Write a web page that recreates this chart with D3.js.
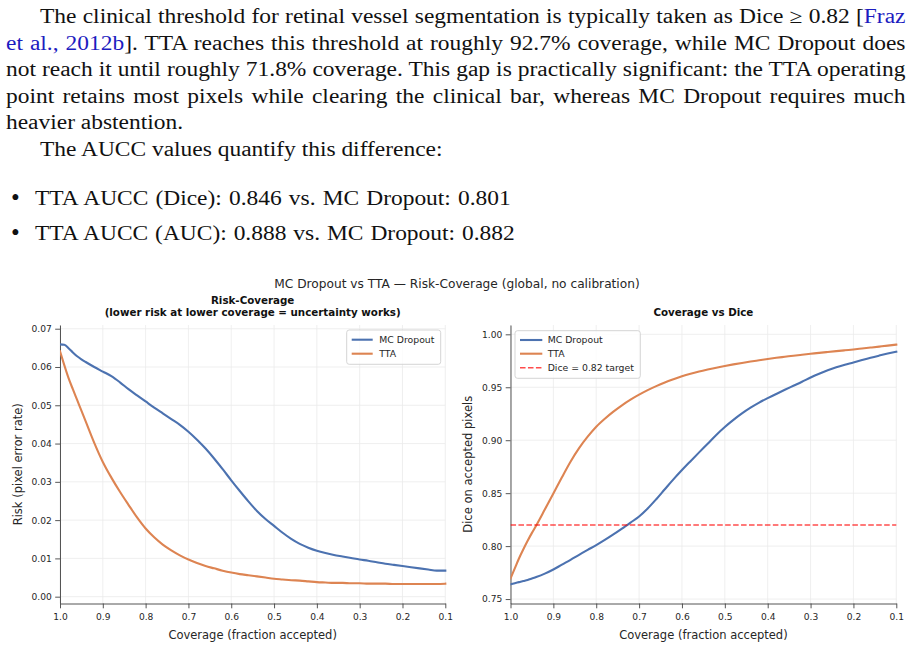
<!DOCTYPE html>
<html><head><meta charset="utf-8">
<script src="https://cdn.jsdelivr.net/npm/d3@7"></script>
<style>body{margin:0;background:#fff;} svg{display:block;}</style>
</head><body>
<svg id="fig" width="914" height="647" xmlns="http://www.w3.org/2000/svg"></svg>
<script>
// ---------------- data ----------------
const coverage = [1.00,0.99,0.98,0.97,0.96,0.95,0.94,
  0.92,0.90,0.88,0.86,0.84,0.82,0.80,0.78,0.76,0.74,0.72,0.70,0.68,0.66,0.64,0.62,0.60,
  0.58,0.56,0.54,0.52,0.50,0.48,0.46,0.44,0.42,0.40,0.38,0.36,0.34,0.32,0.30,
  0.28,0.26,0.24,0.22,0.20,0.18,0.16,0.14,0.12,0.10];
const riskMC = [0.0659,0.0658,0.0649,0.0638,0.0628,0.0620,0.0613,
  0.0600,0.0588,0.0576,0.0560,0.0542,0.0526,0.0510,0.0494,0.0479,0.0464,0.0449,0.0431,0.0410,0.0387,0.0361,0.0333,0.0304,
  0.0276,0.0249,0.0224,0.0203,0.0185,0.0167,0.0151,0.0138,0.0128,0.0120,0.0114,0.0109,0.0105,0.0101,0.0097,
  0.0094,0.0090,0.0086,0.0083,0.0080,0.0077,0.0074,0.0071,0.0068,0.0068];
const riskTTA = [0.0641,0.0605,0.0571,0.0542,0.0514,0.0486,0.0458,
  0.0402,0.0352,0.0311,0.0274,0.0240,0.0207,0.0178,0.0155,0.0136,0.0121,0.0108,0.0097,0.0088,0.0080,0.0074,0.0068,0.0063,
  0.0059,0.0056,0.0053,0.0050,0.0047,0.0045,0.0043,0.0042,0.0040,0.0038,0.0037,0.0036,0.0036,0.0035,0.0035,
  0.0034,0.0034,0.0034,0.0033,0.0033,0.0033,0.0033,0.0033,0.0033,0.0034];
const diceMC = [0.7640,0.7650,0.7660,0.7670,0.7680,0.7694,0.7708,
  0.7740,0.7779,0.7825,0.7870,0.7918,0.7964,0.8009,0.8058,0.8110,0.8165,0.8222,0.8280,0.8355,0.8443,0.8537,0.8630,0.8718,
  0.8802,0.8885,0.8967,0.9050,0.9125,0.9192,0.9253,0.9307,0.9355,0.9397,0.9437,0.9476,0.9514,0.9552,0.9592,
  0.9628,0.9660,0.9688,0.9712,0.9734,0.9757,0.9779,0.9799,0.9818,0.9836];
const diceTTA = [0.7694,0.7790,0.7885,0.7970,0.8050,0.8125,0.8195,
  0.8345,0.8497,0.8650,0.8797,0.8925,0.9033,0.9127,0.9203,0.9270,0.9330,0.9383,0.9430,0.9473,0.9511,0.9545,0.9575,0.9603,
  0.9627,0.9648,0.9667,0.9685,0.9701,0.9716,0.9730,0.9743,0.9755,0.9767,0.9778,0.9788,0.9798,0.9807,0.9816,
  0.9825,0.9833,0.9841,0.9849,0.9857,0.9866,0.9875,0.9884,0.9893,0.9903];
const diceTarget = 0.82;
const seriesNames = ["MC Dropout", "TTA"];
const targetLabel = "Dice = 0.82 target";
const xTicks = [1.0,0.9,0.8,0.7,0.6,0.5,0.4,0.3,0.2,0.1];
const riskTicks = [0.00,0.01,0.02,0.03,0.04,0.05,0.06,0.07];
const diceTicks = [0.75,0.80,0.85,0.90,0.95,1.00];

// ---------------- paragraph text ----------------
const LINK = "#1c1cc0";
const paraLines = [
  {x:40, right:906, justify:true, y:22.7, segs:[{t:"The clinical threshold for retinal vessel segmentation is typically taken as Dice \u2265 0.82 ["},{t:"Fraz",c:LINK}]},
  {x:6, right:906, justify:true, y:49.5, segs:[{t:"et al., 2012b",c:LINK},{t:"]. TTA reaches this threshold at roughly 92.7% coverage, while MC Dropout does"}]},
  {x:6, right:906, justify:true, y:76, segs:[{t:"not reach it until roughly 71.8% coverage. This gap is practically significant: the TTA operating"}]},
  {x:6, right:906, justify:true, y:102.5, segs:[{t:"point retains most pixels while clearing the clinical bar, whereas MC Dropout requires much"}]},
  {x:6, right:183, y:129, segs:[{t:"heavier abstention."}]},
  {x:40, right:443, y:156, segs:[{t:"The AUCC values quantify this difference:"}]},
  {x:35, right:511, justify:true, y:205, bullet:true, segs:[{t:"TTA AUCC (Dice): 0.846 vs. MC Dropout: 0.801"}]},
  {x:35, right:515, justify:true, y:240, bullet:true, segs:[{t:"TTA AUCC (AUC): 0.888 vs. MC Dropout: 0.882"}]}
];

const svg = d3.select("#fig");
svg.append("rect").attr("width",914).attr("height",647).attr("fill","#fff");

const SERIF = "'Liberation Serif','Times New Roman',serif";
const PFS = 20;
const textG = svg.append("g");
const built = paraLines.map(L => {
  const g = textG.append("g");
  const t = g.append("text").attr("x",0).attr("y",0)
    .style("font-family",SERIF).style("font-size",PFS+"px").attr("fill","#111");
  L.segs.forEach(s => t.append("tspan").text(s.t).attr("fill", s.c || "#111"));
  const w = t.node().getComputedTextLength();
  return {L, g, t, w};
});
const ratios = built.filter(b => !b.L.justify).map(b => (b.L.right - b.L.x) / b.w);
const sxAvg = d3.mean(ratios);
built.forEach(b => {
  const L = b.L;
  const sx = sxAvg;
  if (L.justify) {
    const full = L.segs.map(s=>s.t).join("");
    const n = (full.match(/ /g) || []).length;
    const ws = ((L.right - L.x) / sx - b.w) / n;
    b.t.style("word-spacing", ws + "px");
  }
  b.g.attr("transform", `translate(${L.x},${L.y}) scale(${sx},1)`);
  if (L.bullet) {
    textG.append("text").attr("x",15.5).attr("y",L.y+1).attr("text-anchor","middle")
      .style("font-family",SERIF).style("font-size","25px").attr("fill","#111").text("\u2022");
  }
});

// ---------------- chart ----------------
const SANS = "'DejaVu Sans', sans-serif";
const C_MC = "#4C72B0", C_TTA = "#DD8452";
const TXT = "#262626";

svg.append("text").attr("x",457).attr("y",288.3).attr("text-anchor","middle")
  .style("font-family",SANS).style("font-size","12.2px").attr("fill",TXT)
  .text("MC Dropout vs TTA \u2014 Risk-Coverage (global, no calibration)");

function panel(cfg) {
  const {x0,x1,y0,y1} = cfg;
  const x = d3.scaleLinear().domain([1.0,0.1]).range([x0,x1]);
  const y = d3.scaleLinear().domain(cfg.yDomain).range([y1,y0]);
  const g = svg.append("g");
  // grid
  g.append("g").selectAll("line").data(xTicks).join("line")
    .attr("x1",d=>x(d)).attr("x2",d=>x(d)).attr("y1",y0).attr("y2",y1)
    .attr("stroke","#ebebeb").attr("stroke-width",0.8);
  g.append("g").selectAll("line").data(cfg.yTicks).join("line")
    .attr("x1",x0).attr("x2",x1).attr("y1",d=>y(d)).attr("y2",d=>y(d))
    .attr("stroke","#ebebeb").attr("stroke-width",0.8);
  // axes
  const axB = g.append("g").attr("transform",`translate(0,${y1})`)
    .call(d3.axisBottom(x).tickValues(xTicks).tickFormat(d3.format(".1f"))
      .tickSizeInner(4.8).tickSizeOuter(0).tickPadding(4.8));
  const axL = g.append("g").attr("transform",`translate(${x0},0)`)
    .call(d3.axisLeft(y).tickValues(cfg.yTicks).tickFormat(d3.format(".2f"))
      .tickSizeInner(4.8).tickSizeOuter(0).tickPadding(3.5));
  [axB, axL].forEach(a => {
    a.select(".domain").attr("stroke","#555").attr("stroke-width",1);
    a.selectAll(".tick line").attr("stroke","#444").attr("stroke-width",0.9);
    a.selectAll(".tick text").style("font-family",SANS).style("font-size","9.1px").attr("fill",TXT);
  });
  // curves
  const clipId = "clip" + cfg.id;
  svg.append("clipPath").attr("id",clipId).append("rect")
    .attr("x",x0).attr("y",y0-2).attr("width",x1-x0+2).attr("height",y1-y0+2);
  const lg = g.append("g").attr("clip-path",`url(#${clipId})`);
  const line = d3.line().x((d,i)=>x(coverage[i])).y(d=>y(d)).curve(d3.curveMonotoneX);
  cfg.series.forEach(s => {
    lg.append("path").attr("d",line(s.values)).attr("fill","none")
      .attr("stroke",s.color).attr("stroke-width",2.1)
      .attr("stroke-linejoin","round").attr("stroke-linecap","square");
  });
  if (cfg.target != null) {
    lg.append("line").attr("x1",x0).attr("x2",x1).attr("y1",y(cfg.target)).attr("y2",y(cfg.target))
      .attr("stroke","red").attr("stroke-opacity",0.7).attr("stroke-width",1.5)
      .attr("stroke-dasharray","5.55,2.4");
  }
  // titles and labels
  cfg.title.forEach((t,i) => {
    g.append("text").attr("x",(x0+x1)/2).attr("y",cfg.titleY[i]).attr("text-anchor","middle")
      .style("font-family",SANS).style("font-size","10.3px").style("font-weight","bold")
      .attr("fill","#111").text(t);
  });
  g.append("text").attr("x",(x0+x1)/2).attr("y",638.5).attr("text-anchor","middle")
    .style("font-family",SANS).style("font-size","11.5px").attr("fill",TXT)
    .text("Coverage (fraction accepted)");
  g.append("text").attr("transform",`translate(${cfg.ylabX},${(y0+y1)/2}) rotate(-90)`)
    .attr("text-anchor","middle")
    .style("font-family",SANS).style("font-size","11.5px").attr("fill",TXT)
    .text(cfg.ylabel);
  // legend
  const Lg = cfg.legend;
  const leg = g.append("g");
  leg.append("rect").attr("x",Lg.x).attr("y",Lg.y).attr("width",Lg.w).attr("height",Lg.h)
    .attr("rx",2.5).attr("fill","#fff").attr("fill-opacity",0.8)
    .attr("stroke","#d0d0d0").attr("stroke-width",0.9);
  Lg.items.forEach((it,i) => {
    const yy = Lg.rowY[i];
    leg.append("line").attr("x1",Lg.lx0).attr("x2",Lg.lx1).attr("y1",yy).attr("y2",yy)
      .attr("stroke",it.color).attr("stroke-width",it.dash ? 1.5 : 2.1)
      .attr("stroke-opacity", it.dash ? 0.7 : 1)
      .attr("stroke-dasharray", it.dash ? "5.55,2.4" : null);
    leg.append("text").attr("x",Lg.tx).attr("y",yy+3.3)
      .style("font-family",SANS).style("font-size","9.3px").attr("fill",TXT).text(it.label);
  });
}

panel({
  id:"L", x0:60, x1:445.3, y0:325, y1:603.5,
  yDomain:[-0.00178, 0.07097], yTicks:riskTicks,
  series:[{values:riskMC,color:C_MC},{values:riskTTA,color:C_TTA}],
  title:["Risk-Coverage","(lower risk at lower coverage = uncertainty works)"], titleY:[304.3,316],
  ylabel:"Risk (pixel error rate)", ylabX:21.5,
  legend:{x:346.7,y:330,w:94,h:34.3,lx0:351.7,lx1:372.7,tx:379.3,rowY:[339.7,353.7],
    items:[{label:seriesNames[0],color:C_MC},{label:seriesNames[1],color:C_TTA}]}
});
panel({
  id:"R", x0:510.5, x1:896.3, y0:325, y1:603.5,
  yDomain:[0.7458, 1.0088], yTicks:diceTicks, target:diceTarget,
  series:[{values:diceMC,color:C_MC},{values:diceTTA,color:C_TTA}],
  title:["Coverage vs Dice"], titleY:[316],
  ylabel:"Dice on accepted pixels", ylabX:472,
  legend:{x:515,y:330.7,w:125.3,h:47.6,lx0:520,lx1:542.3,tx:547.7,rowY:[340,353.7,367.7],
    items:[{label:seriesNames[0],color:C_MC},{label:seriesNames[1],color:C_TTA},{label:targetLabel,color:"red",dash:true}]}
});
</script>
</body></html>
